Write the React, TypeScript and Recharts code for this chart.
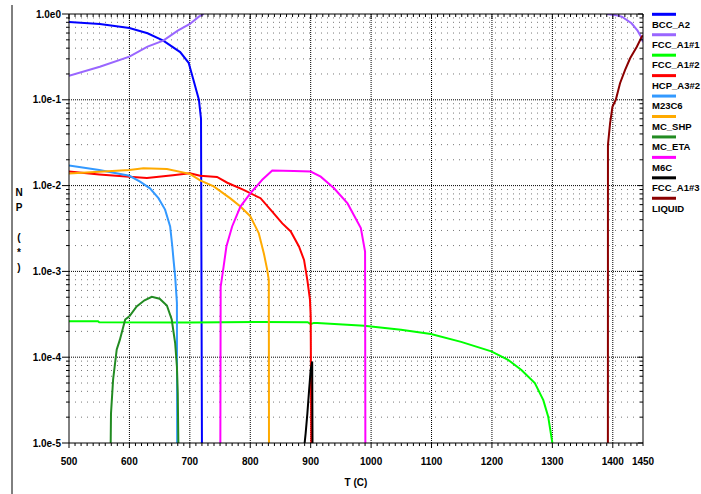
import React from "react";
import { LineChart, Line, XAxis, YAxis, CartesianGrid } from "recharts";

// ---- axes / ticks ----
const xMajorTicks = [500, 600, 700, 800, 900, 1000, 1100, 1200, 1300, 1400, 1450];
const xGridLines = [600, 700, 800, 900, 1000, 1100, 1200, 1300, 1400];
const yMajorTicks = [1e-5, 1e-4, 1e-3, 1e-2, 1e-1, 1];
const yTickLabels = ["1.0e-5", "1.0e-4", "1.0e-3", "1.0e-2", "1.0e-1", "1.0e0"];
const yGridLines = [1e-4, 1e-3, 1e-2, 1e-1];
const minorMultipliers = [2, 3, 4, 5, 6, 7, 8, 9];
const xAxisLabel = "T (C)";
const yAxisLabelChars = ["N", "P", "", "(", "*", ")"];

const xMinorTicks: number[] = [];
for (let t = 500; t <= 1450; t += 10) xMinorTicks.push(t);
const yMinorLines = yMajorTicks.slice(0, -1).flatMap((d) => minorMultipliers.map((m) => d * m));
const yAllTicks = [...yMajorTicks, ...yMinorLines].sort((a, b) => a - b);

// ---- series data (T in C, NP) ----
const bccA2 = [
  { t: 500, v: 0.807 }, { t: 551, v: 0.765 }, { t: 600, v: 0.687 }, { t: 630, v: 0.596 },
  { t: 656, v: 0.49 }, { t: 684, v: 0.36 }, { t: 698, v: 0.27 }, { t: 706, v: 0.17 },
  { t: 715, v: 0.1 }, { t: 718.5, v: 0.06 }, { t: 720, v: 0.00001 },
];
const fccA1_1 = [
  { t: 500, v: 0.19 }, { t: 551, v: 0.243 }, { t: 600, v: 0.318 }, { t: 630, v: 0.417 },
  { t: 656, v: 0.49 }, { t: 680, v: 0.64 }, { t: 700, v: 0.765 }, { t: 715, v: 0.93 },
  { t: 723, v: 1.0 }, { t: 1000, v: null }, { t: 1390, v: 1.0 }, { t: 1405, v: 0.97 },
  { t: 1415, v: 0.93 }, { t: 1431, v: 0.78 }, { t: 1441, v: 0.64 }, { t: 1447, v: 0.54 },
  { t: 1450, v: 0.47 },
];
const fccA1_2 = [
  { t: 500, v: 0.000262 }, { t: 548, v: 0.000262 }, { t: 550, v: 0.000255 }, { t: 700, v: 0.000254 },
  { t: 816, v: 0.000257 }, { t: 895, v: 0.000256 }, { t: 900, v: 0.000243 }, { t: 905, v: 0.000251 },
  { t: 911, v: 0.00025 }, { t: 988.5, v: 0.000232 }, { t: 1049.5, v: 0.000209 }, { t: 1099, v: 0.000186 },
  { t: 1149, v: 0.000151 }, { t: 1199, v: 0.000117 }, { t: 1226.7, v: 0.000093 }, { t: 1248.8, v: 0.000071 },
  { t: 1271, v: 0.00005 }, { t: 1285, v: 0.0000316 }, { t: 1293, v: 0.0000204 }, { t: 1300, v: 0.00001 },
];
const hcpA3_2 = [
  { t: 500, v: 0.0146 }, { t: 550, v: 0.0135 }, { t: 600, v: 0.0127 }, { t: 629, v: 0.0123 },
  { t: 672, v: 0.0132 }, { t: 700, v: 0.0139 }, { t: 717, v: 0.013 }, { t: 745, v: 0.0126 },
  { t: 762, v: 0.0108 }, { t: 789, v: 0.0089 }, { t: 817, v: 0.00713 }, { t: 836, v: 0.00501 },
  { t: 853, v: 0.00363 }, { t: 867, v: 0.00292 }, { t: 880.6, v: 0.00195 }, { t: 889, v: 0.00136 },
  { t: 894.5, v: 0.00079 }, { t: 898.8, v: 0.00047 }, { t: 900, v: 0.0003 }, { t: 901, v: 0.00001 },
];
const m23c6 = [
  { t: 500, v: 0.0171 }, { t: 550, v: 0.0152 }, { t: 600, v: 0.013 }, { t: 617.6, v: 0.0111 },
  { t: 634, v: 0.0093 }, { t: 648, v: 0.00713 }, { t: 659, v: 0.00525 }, { t: 667.4, v: 0.00334 },
  { t: 671, v: 0.00195 }, { t: 673, v: 0.00136 }, { t: 675.7, v: 0.00087 }, { t: 678.6, v: 0.00043 },
  { t: 679, v: 0.00001 },
];
const mcShp = [
  { t: 500, v: 0.0138 }, { t: 550, v: 0.0145 }, { t: 600, v: 0.0152 }, { t: 623, v: 0.0159 },
  { t: 662, v: 0.0156 }, { t: 700, v: 0.0137 }, { t: 717, v: 0.0115 }, { t: 739.5, v: 0.0098 },
  { t: 767, v: 0.0071 }, { t: 783.7, v: 0.0057 }, { t: 800, v: 0.0044 }, { t: 814, v: 0.0028 },
  { t: 822.5, v: 0.00162 }, { t: 828, v: 0.00105 }, { t: 830.7, v: 0.00079 }, { t: 831, v: 0.00001 },
];
const mcEta = [
  { t: 569, v: 0.00001 }, { t: 569.5, v: 0.000022 }, { t: 573, v: 0.000055 }, { t: 579, v: 0.000123 },
  { t: 584, v: 0.000158 }, { t: 593, v: 0.000275 }, { t: 600, v: 0.0003 }, { t: 612, v: 0.00039 },
  { t: 625, v: 0.00046 }, { t: 637, v: 0.000506 }, { t: 650, v: 0.00048 }, { t: 662, v: 0.0004 },
  { t: 670, v: 0.000275 }, { t: 675.7, v: 0.000146 }, { t: 678.6, v: 0.000078 }, { t: 680, v: 0.000038 },
  { t: 681, v: 0.00001 },
];
const m6c = [
  { t: 750.5, v: 0.00001 }, { t: 751, v: 0.00066 }, { t: 756, v: 0.00115 }, { t: 760.5, v: 0.00195 },
  { t: 770, v: 0.00334 }, { t: 783.7, v: 0.0057 }, { t: 800, v: 0.0081 }, { t: 819.8, v: 0.0117 },
  { t: 836.4, v: 0.015 }, { t: 872, v: 0.0148 }, { t: 900, v: 0.0146 }, { t: 916.6, v: 0.0127 },
  { t: 938.7, v: 0.0093 }, { t: 961, v: 0.0062 }, { t: 983, v: 0.0032 }, { t: 990, v: 0.0017 },
  { t: 990.5, v: 0.00001 },
];
const fccA1_3 = [
  { t: 890, v: 0.00001 }, { t: 891.7, v: 0.000013 }, { t: 894.5, v: 0.000022 }, { t: 897, v: 0.000038 },
  { t: 900, v: 0.000071 }, { t: 902.5, v: 0.000089 }, { t: 903, v: 0.00001 },
];
const liquid = [
  { t: 1391.9, v: 0.00001 }, { t: 1392, v: 0.0298 }, { t: 1395.5, v: 0.0533 }, { t: 1399.5, v: 0.0832 },
  { t: 1405, v: 0.1 }, { t: 1412, v: 0.156 }, { t: 1420.4, v: 0.223 }, { t: 1428.7, v: 0.305 },
  { t: 1439.8, v: 0.416 }, { t: 1448, v: 0.544 }, { t: 1450, v: 0.56 },
];

const series = [
  { name: "BCC_A2", color: "#0000ff", data: bccA2 },
  { name: "FCC_A1#1", color: "#9966ff", data: fccA1_1 },
  { name: "FCC_A1#2", color: "#00ff00", data: fccA1_2 },
  { name: "HCP_A3#2", color: "#ff0000", data: hcpA3_2 },
  { name: "M23C6", color: "#3399ff", data: m23c6 },
  { name: "MC_SHP", color: "#ffaa00", data: mcShp },
  { name: "MC_ETA", color: "#228b22", data: mcEta },
  { name: "M6C", color: "#ff00ff", data: m6c },
  { name: "FCC_A1#3", color: "#000000", data: fccA1_3 },
  { name: "LIQUID", color: "#8b0000", data: liquid },
];

const FONT = "'Liberation Sans', Arial, sans-serif";
const textStyle: React.CSSProperties = { fontFamily: FONT, fontWeight: 700, fontSize: 10, fill: "#000" };
const legendTextStyle: React.CSSProperties = { ...textStyle, fontSize: 9.5 };

const majorIndex = (v: number) => yMajorTicks.findIndex((m) => Math.abs(m - v) / m < 1e-6);

const LeftTick = (props: any) => {
  const { x, y, payload } = props;
  const idx = majorIndex(payload.value);
  if (idx >= 0) {
    return (
      <g>
        <line x1={x - 7} x2={x} y1={y} y2={y} stroke="#000" strokeWidth={1} />
        <text x={x - 8} y={y} dy={3.5} textAnchor="end" style={textStyle}>
          {yTickLabels[idx]}
        </text>
      </g>
    );
  }
  return <line x1={x - 3} x2={x} y1={y} y2={y} stroke="#000" strokeWidth={1} />;
};

const RightTick = (props: any) => {
  const { x, y, payload } = props;
  const len = majorIndex(payload.value) >= 0 ? 5 : 3;
  return <line x1={x - len} x2={x} y1={y} y2={y} stroke="#000" strokeWidth={1} />;
};

const BottomTick = (props: any) => {
  const { x, y, payload } = props;
  const v = payload.value;
  const isMajor = xMajorTicks.includes(v);
  return (
    <g>
      <line x1={x} x2={x} y1={y} y2={y + (v % 100 === 0 ? 5 : 3)} stroke="#000" strokeWidth={1} />
      {isMajor && (
        <text x={x} y={y} dy={21.5} textAnchor="middle" style={textStyle}>
          {String(v)}
        </text>
      )}
    </g>
  );
};

const TopTick = (props: any) => {
  const { x, y, payload } = props;
  const v = payload.value;
  return <line x1={x} x2={x} y1={y} y2={y + (v % 100 === 0 ? 5 : 3)} stroke="#000" strokeWidth={1} />;
};

export default function App() {
  return (
    <div style={{ position: "absolute", left: 0, top: 0, width: 701, height: 494, background: "#fff" }}>
      <LineChart width={701} height={494} margin={{ top: 13, right: 57, bottom: 50, left: 68 }}>
        <CartesianGrid
          horizontalValues={yMinorLines}
          vertical={false}
          stroke="#777"
          strokeDasharray="1 5"
        />
        <CartesianGrid
          horizontalValues={yGridLines}
          verticalValues={xGridLines}
          stroke="#000"
          strokeDasharray="1 1"
        />
        <XAxis
          dataKey="t"
          type="number"
          domain={[500, 1450]}
          allowDataOverflow
          ticks={xMinorTicks}
          interval={0}
          tickSize={0}
          tickMargin={0}
          height={1}
          tick={<BottomTick />}
          axisLine={{ stroke: "#000" }}
        />
        <XAxis
          xAxisId="top"
          orientation="top"
          dataKey="t"
          type="number"
          domain={[500, 1450]}
          allowDataOverflow
          ticks={xMinorTicks}
          interval={0}
          tickSize={0}
          tickMargin={0}
          height={1}
          tick={<TopTick />}
          axisLine={{ stroke: "#000" }}
        />
        <YAxis
          type="number"
          scale="log"
          domain={[1e-5, 1]}
          allowDataOverflow
          ticks={yAllTicks}
          interval={0}
          tickSize={0}
          tickMargin={0}
          width={1}
          tick={<LeftTick />}
          axisLine={{ stroke: "#000" }}
        />
        <YAxis
          yAxisId="right"
          orientation="right"
          type="number"
          scale="log"
          domain={[1e-5, 1]}
          allowDataOverflow
          ticks={yAllTicks}
          interval={0}
          tickSize={0}
          tickMargin={0}
          width={1}
          tick={<RightTick />}
          axisLine={{ stroke: "#000" }}
        />
        {series.map((s) => (
          <Line
            key={s.name}
            name={s.name}
            data={s.data}
            dataKey="v"
            type="linear"
            stroke={s.color}
            strokeWidth={2}
            dot={false}
            activeDot={false}
            isAnimationActive={false}
          />
        ))}
      </LineChart>
      <svg
        width={701}
        height={494}
        style={{ position: "absolute", left: 0, top: 0, pointerEvents: "none" }}
      >
        <line x1={12} x2={12} y1={5} y2={494} stroke="#000" strokeWidth={1} />
        {yAxisLabelChars.map((c, i) => (
          <text key={i} x={19} y={196 + i * 15} textAnchor="middle" style={textStyle}>
            {c}
          </text>
        ))}
        <text x={356} y={485.5} textAnchor="middle" style={textStyle}>
          {xAxisLabel}
        </text>
        {series.map((s, i) => (
          <g key={s.name}>
            <rect x={652} y={12.8 + i * 20.44} width={24} height={3} fill={s.color} />
            <text x={652} y={27.6 + i * 20.44} style={legendTextStyle}>
              {s.name}
            </text>
          </g>
        ))}
      </svg>
    </div>
  );
}
